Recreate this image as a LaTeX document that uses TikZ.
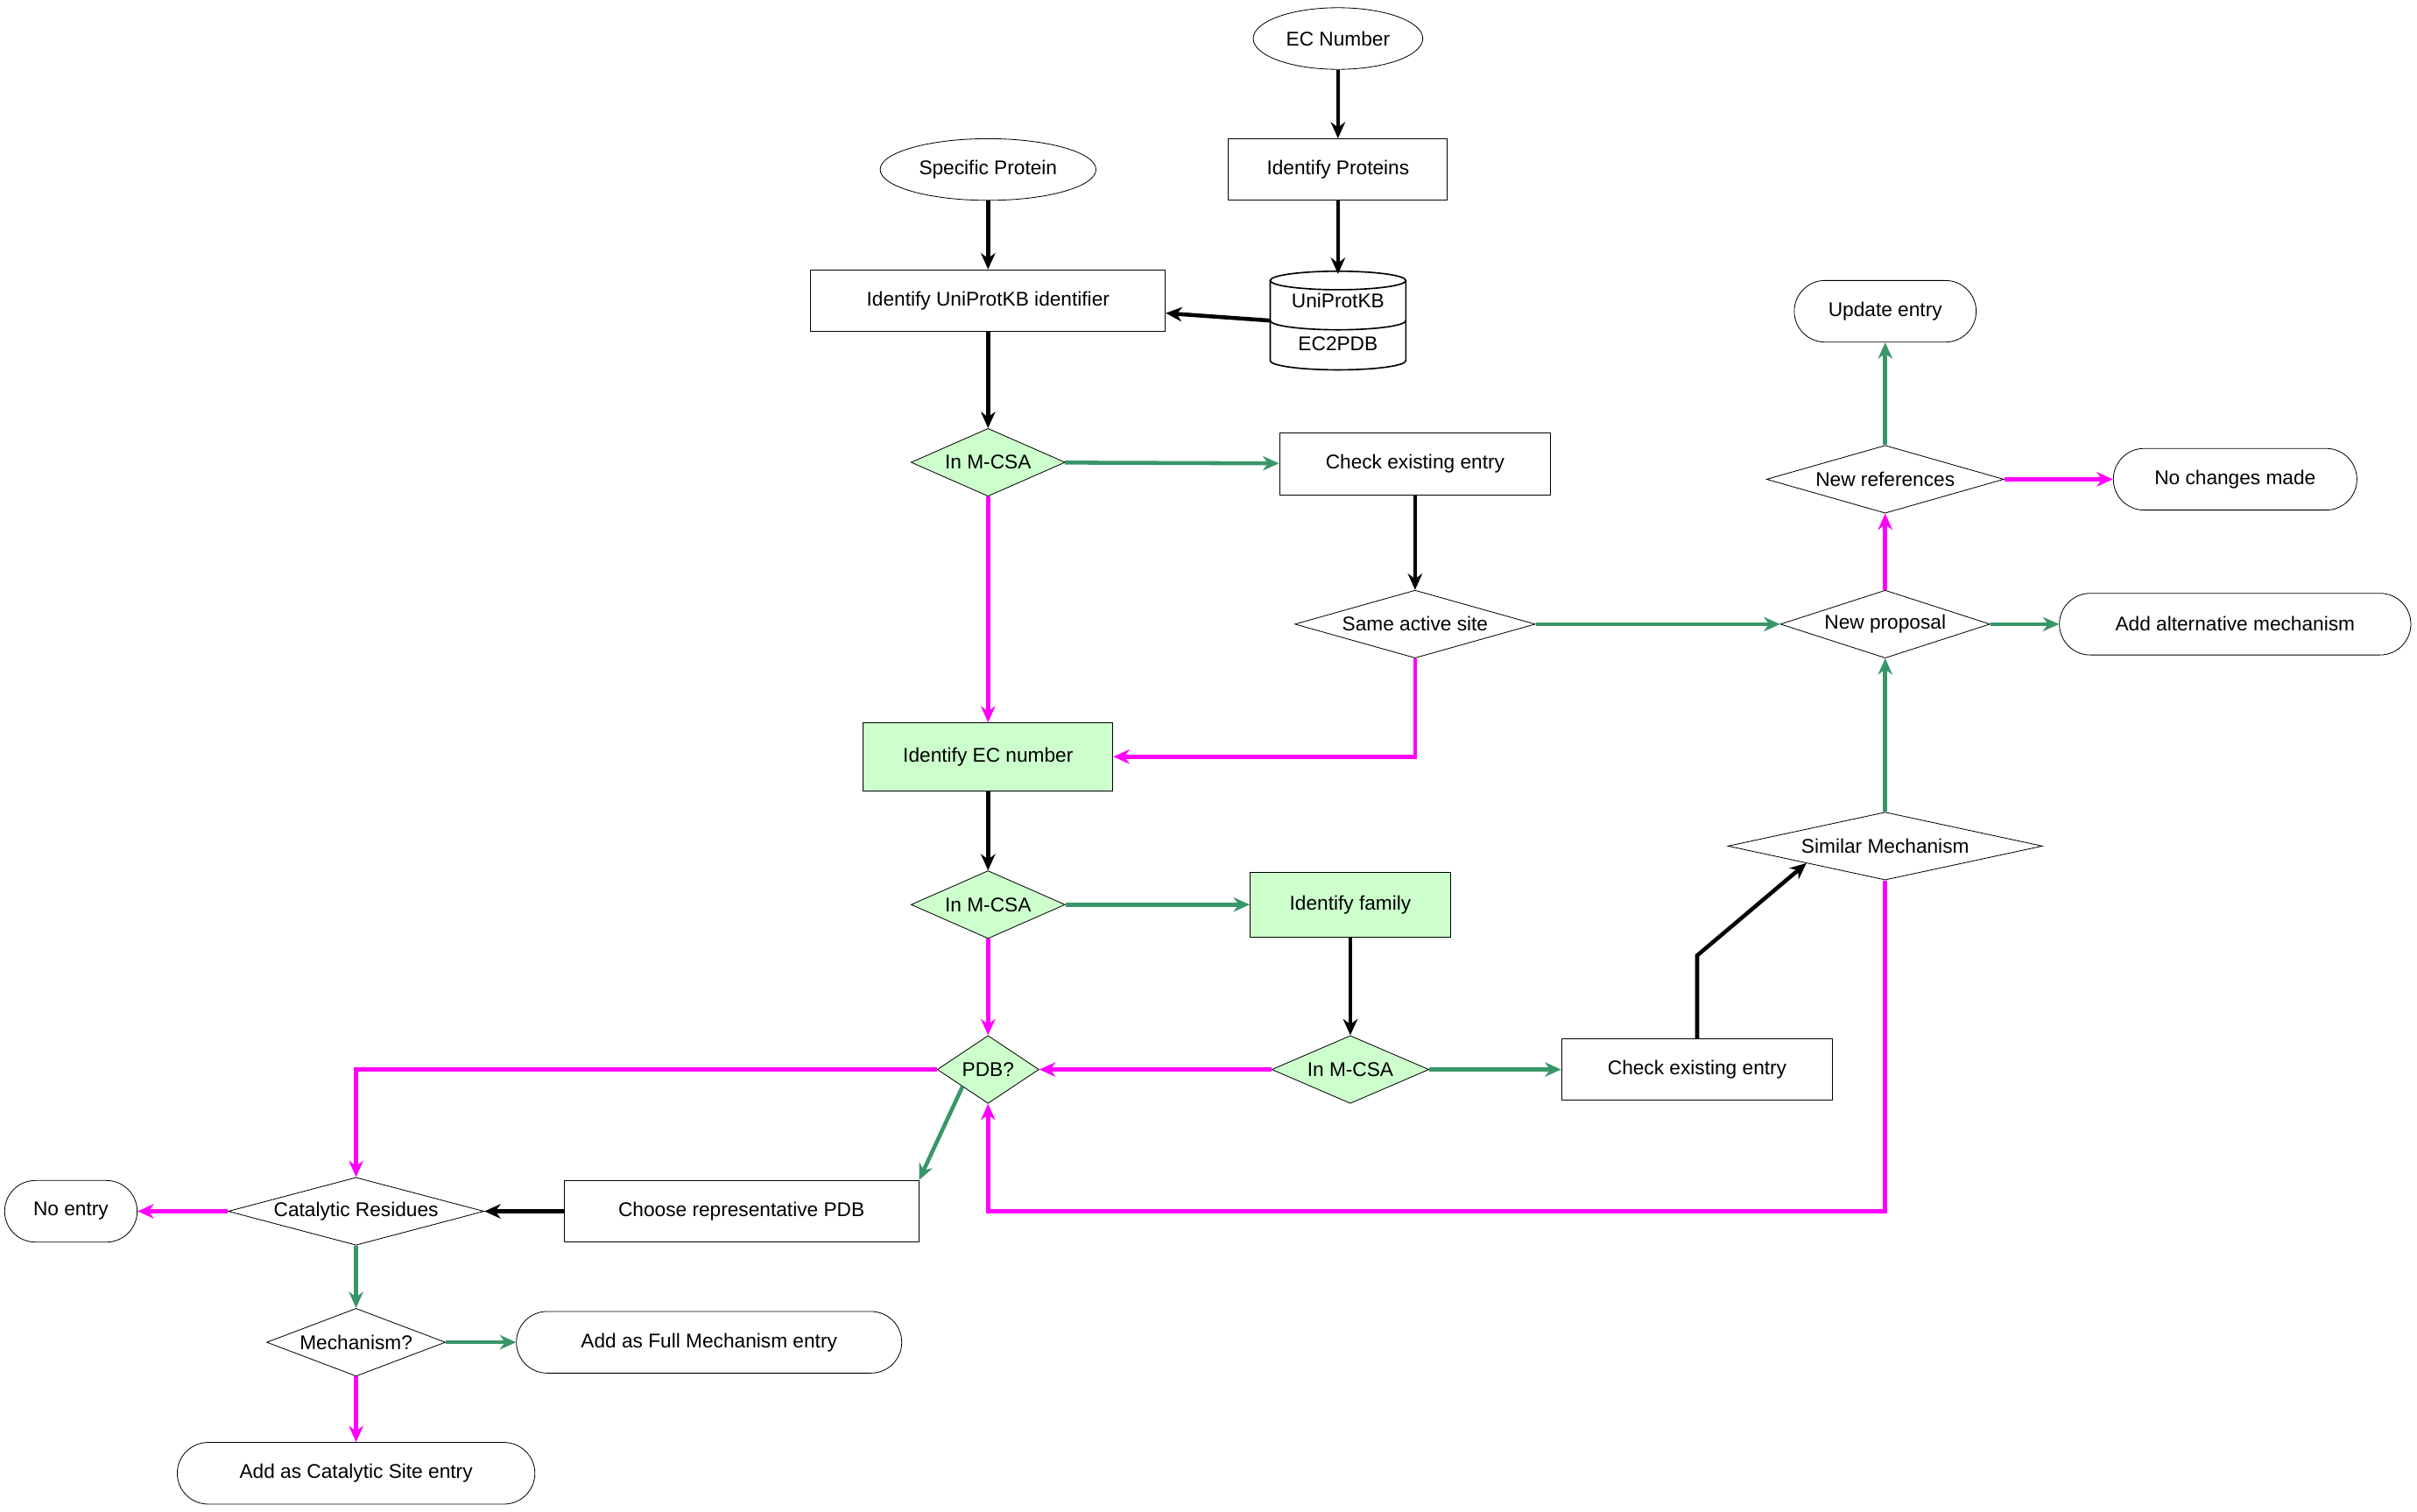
\documentclass[tikz,border=0pt]{standalone}
\usepackage{fontspec}
\setmainfont{Liberation Sans}
\usetikzlibrary{shapes.geometric,arrows.meta}
\definecolor{okgreen}{RGB}{56,150,105}
\definecolor{nogo}{RGB}{255,0,255}
\definecolor{lightg}{RGB}{204,255,204}
\tikzset{box/.style={draw,rectangle,minimum height=40*0.03cm,inner sep=3pt,font=\fontsize{11}{13}\selectfont}}
\tikzset{term/.style={box,rounded corners=20*0.03cm}}
\tikzset{oval/.style={draw,ellipse,minimum height=40*0.03cm,inner sep=1pt,font=\fontsize{11}{13}\selectfont}}
\tikzset{dec/.style={draw,diamond,aspect=3.5,inner sep=0pt,minimum height=44*0.03cm,font=\fontsize{11}{13}\selectfont}}
\tikzset{flow/.style={line width=2.2pt,-{Stealth[length=9pt,width=8pt]}}}
\tikzset{yes/.style={flow,okgreen}}
\tikzset{no/.style={flow,nogo}}
\begin{document}
\begin{tikzpicture}[x=0.03cm,y=-0.03cm]
  \useasboundingbox (0,0) rectangle (1568,981);
  % start points
  \node[oval,minimum width=110*0.03cm] (ec) at (868,25) {EC Number};
  \node[box,minimum width=142*0.03cm] (idprot) at (868,110) {Identify Proteins};
  \node[oval,minimum width=140*0.03cm] (spec) at (641,110) {Specific Protein};
  \node[box,minimum width=230*0.03cm] (iduni) at (641,195) {Identify UniProtKB identifier};
  % database
  \node[minimum width=88*0.03cm,minimum height=60*0.03cm,inner sep=0pt] (db) at (868,208) {};
  \draw[thick] (824,182) -- (824,234) arc[start angle=180,end angle=360,x radius=44,y radius=-6] -- (912,182);
  \draw[thick] (868,182) ellipse[x radius=44,y radius=6];
  \draw[thick] (824,208) arc[start angle=180,end angle=360,x radius=44,y radius=-6];
  \node[font=\fontsize{11}{13}\selectfont] at (868,195) {UniProtKB};
  \node[font=\fontsize{11}{13}\selectfont] at (868,223) {EC2PDB};
  % upper branch
  \node[dec,fill=lightg,minimum width=100*0.03cm] (mcsa1) at (641,300) {In M-CSA};
  \node[box,minimum width=176*0.03cm] (check1) at (918,301) {Check existing entry};
  \node[dec,minimum width=156*0.03cm] (same) at (918,405) {Same active site};
  \node[dec,minimum width=136*0.03cm] (newprop) at (1223,405) {New proposal};
  \node[dec,minimum width=154*0.03cm] (newref) at (1223,311) {New references};
  \node[term,minimum width=118*0.03cm] (update) at (1223,202) {Update entry};
  \node[term,minimum width=158*0.03cm] (nochange) at (1450,311) {No changes made};
  \node[term,minimum width=228*0.03cm] (addalt) at (1450,405) {Add alternative mechanism};
  % EC branch
  \node[box,fill=lightg,minimum width=162*0.03cm,minimum height=44*0.03cm] (idec) at (641,491) {Identify EC number};
  \node[dec,fill=lightg,minimum width=100*0.03cm] (mcsa2) at (641,587) {In M-CSA};
  \node[box,fill=lightg,minimum width=130*0.03cm,minimum height=42*0.03cm] (family) at (876,587) {Identify family};
  \node[dec,fill=lightg,minimum width=102*0.03cm] (mcsa3) at (876,694) {In M-CSA};
  \node[dec,fill=lightg,minimum width=66*0.03cm,aspect=1.5] (pdb) at (641,694) {PDB?};
  \node[box,minimum width=176*0.03cm] (check2) at (1101,694) {Check existing entry};
  \node[dec,minimum width=204*0.03cm] (similar) at (1223,549) {Similar Mechanism};
  % new entry
  \node[dec,minimum width=166*0.03cm] (catres) at (231,786) {Catalytic Residues};
  \node[box,minimum width=230*0.03cm] (choose) at (481,786) {Choose representative PDB};
  \node[term,minimum width=86*0.03cm] (noentry) at (46,786) {No entry};
  \node[dec,minimum width=116*0.03cm] (mech) at (231,871) {Mechanism?};
  \node[term,minimum width=250*0.03cm] (full) at (460,871) {Add as Full Mechanism entry};
  \node[term,minimum width=232*0.03cm] (catsite) at (231,956) {Add as Catalytic Site entry};
  % connectors
  \draw[flow] (ec) -- (idprot);
  \draw[flow] (idprot) -- (db.north);
  \draw[flow] (spec) -- (iduni);
  \draw[flow] (db.west) -- (iduni);
  \draw[flow] (iduni) -- (mcsa1);
  \draw[yes] (mcsa1) -- (check1);
  \draw[no] (mcsa1) -- (idec);
  \draw[flow] (check1) -- (same);
  \draw[yes] (same) -- (newprop);
  \draw[no] (same.south) |- (idec.east);
  \draw[no] (newprop) -- (newref);
  \draw[yes] (newprop) -- (addalt);
  \draw[yes] (newref) -- (update);
  \draw[no] (newref) -- (nochange);
  \draw[flow] (idec) -- (mcsa2);
  \draw[yes] (mcsa2) -- (family);
  \draw[no] (mcsa2) -- (pdb);
  \draw[flow] (family) -- (mcsa3);
  \draw[no] (mcsa3) -- (pdb);
  \draw[yes] (mcsa3) -- (check2);
  \draw[flow] (check2.north) -- (1101,620) -- (similar.south west);
  \draw[yes] (similar) -- (newprop);
  \draw[no] (similar.south) -- (1223,786) -| (pdb.south);
  \draw[no] (pdb.west) -| (catres.north);
  \draw[yes] (pdb.south west) -- (choose.north east);
  \draw[flow] (choose) -- (catres);
  \draw[no] (catres) -- (noentry);
  \draw[yes] (catres) -- (mech);
  \draw[yes] (mech) -- (full);
  \draw[no] (mech) -- (catsite);
\end{tikzpicture}
\end{document}
